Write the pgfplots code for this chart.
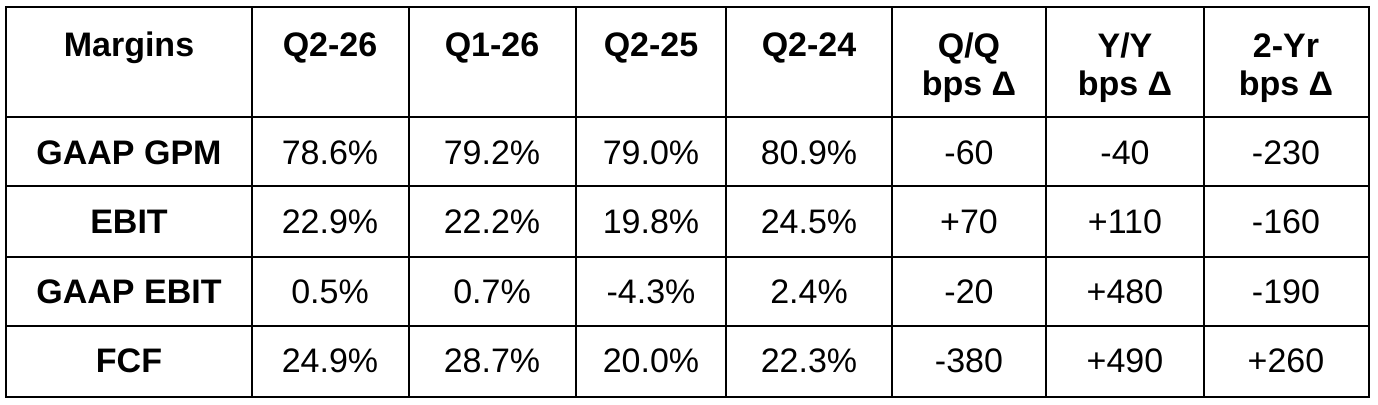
\documentclass[border=0pt]{standalone}
\usepackage{pgfplots}
\pgfplotsset{compat=1.18}
\usepackage{fontspec}
\setmainfont{Liberation Sans}
\begin{document}
\begin{tikzpicture}
\begin{axis}[
  scale only axis, width=689pt, height=202pt,
  xmin=0, xmax=1378, ymin=0, ymax=404, y dir=reverse,
  axis line style={draw=none}, ticks=none, clip=false,
  unbounded coords=jump,
]
% grid
\addplot[black, line width=1.3pt, line cap=rect, mark=none] coordinates {
 (6,7) (1369,7) (nan,nan)
 (6,117) (1369,117) (nan,nan)
 (6,186) (1369,186) (nan,nan)
 (6,257) (1369,257) (nan,nan)
 (6,326) (1369,326) (nan,nan)
 (6,397) (1369,397) (nan,nan)
 (6,7) (6,397) (nan,nan)
 (252,7) (252,397) (nan,nan)
 (409,7) (409,397) (nan,nan)
 (576,7) (576,397) (nan,nan)
 (726,7) (726,397) (nan,nan)
 (892,7) (892,397) (nan,nan)
 (1046,7) (1046,397) (nan,nan)
 (1204,7) (1204,397) (nan,nan)
 (1369,7) (1369,397)
};
% bold text: headers and row names
\addplot[draw=none, mark=none, nodes near coords, point meta=explicit symbolic,
  every node near coord/.style={anchor=base, inner sep=0pt, font=\fontsize{17}{20}\selectfont\bfseries}]
  coordinates {
 (129,56) [Margins]
 (330,56) [Q2-26]
 (492,56) [Q1-26]
 (651,56) [Q2-25]
 (809,56) [Q2-24]
 (969,57) [Q/Q]
 (969,95) [bps Δ]
 (1125,57) [Y/Y]
 (1125,95) [bps Δ]
 (1286,57) [2-Yr]
 (1286,95) [bps Δ]
 (129,164) [GAAP GPM]
 (129,233) [EBIT]
 (129,303) [GAAP EBIT]
 (129,372) [FCF]
};
% values
\addplot[draw=none, mark=none, nodes near coords, point meta=explicit symbolic,
  every node near coord/.style={anchor=base, inner sep=0pt, font=\fontsize{17}{20}\selectfont}]
  coordinates {
 (330,164) [78.6\%] (492,164) [79.2\%] (651,164) [79.0\%] (809,164) [80.9\%]
 (969,164) [-60] (1125,164) [-40] (1286,164) [-230]
 (330,233) [22.9\%] (492,233) [22.2\%] (651,233) [19.8\%] (809,233) [24.5\%]
 (969,233) [+70] (1125,233) [+110] (1286,233) [-160]
 (330,303) [0.5\%] (492,303) [0.7\%] (651,303) [-4.3\%] (809,303) [2.4\%]
 (969,303) [-20] (1125,303) [+480] (1286,303) [-190]
 (330,372) [24.9\%] (492,372) [28.7\%] (651,372) [20.0\%] (809,372) [22.3\%]
 (969,372) [-380] (1125,372) [+490] (1286,372) [+260]
};
\end{axis}
\end{tikzpicture}
\end{document}
